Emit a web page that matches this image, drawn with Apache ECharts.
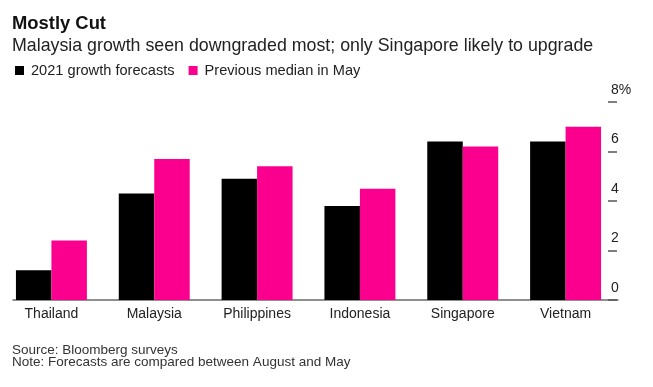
<!DOCTYPE html>
<html>
<head>
<meta charset="utf-8">
<script src="https://cdn.jsdelivr.net/npm/echarts@6/dist/echarts.min.js"></script>
<style>
html,body{margin:0;padding:0;background:#fff;}
#c{width:653px;height:387px;}
</style>
</head>
<body>
<div id="c"></div>
<script>
var categories = ['Thailand', 'Malaysia', 'Philippines', 'Indonesia', 'Singapore', 'Vietnam'];
var forecasts2021 = [1.2, 4.3, 4.9, 3.8, 6.4, 6.4];
var previousMay = [2.4, 5.7, 5.4, 4.5, 6.2, 7.0];
var yTicks = [0, 2, 4, 6, 8];
var seriesNames = ['2021 growth forecasts', 'Previous median in May'];

var FONT = '"Liberation Sans", Arial, sans-serif';
var chart = echarts.init(document.getElementById('c'), null, {renderer: 'canvas'});
chart.setOption({
  animation: false,
  backgroundColor: '#fff',
  textStyle: {fontFamily: FONT},
  title: [
    {text: 'Mostly Cut', left: 12, top: 15, padding: 0,
     textStyle: {fontFamily: FONT, fontSize: 18.4, fontWeight: 'bold', color: '#111'}},
    {text: 'Malaysia growth seen downgraded most; only Singapore likely to upgrade', left: 12, top: 37, padding: 0,
     textStyle: {fontFamily: FONT, fontSize: 17.8, fontWeight: 'normal', color: '#222'}},
    {text: 'Source: Bloomberg surveys', left: 12, top: 343, padding: 0,
     textStyle: {fontFamily: FONT, fontSize: 13.5, fontWeight: 'normal', color: '#333'}},
    {text: 'Note: Forecasts are compared between August and May', left: 12, top: 355, padding: 0,
     textStyle: {fontFamily: FONT, fontSize: 13.5, fontWeight: 'normal', color: '#333'}}
  ],
  legend: {
    left: 15, top: 63, padding: 0,
    icon: 'rect', itemWidth: 9, itemHeight: 9, itemGap: 14,
    data: seriesNames,
    textStyle: {fontFamily: FONT, fontSize: 14.6, color: '#222', padding: [0, 0, 0, 2]}
  },
  grid: [
    {left: -3, right: 36, top: 102, bottom: 87, containLabel: false},
    {left: 13, right: 35, top: 102, bottom: 87, containLabel: false}
  ],
  xAxis: [
    {type: 'category', gridIndex: 0, data: categories,
     axisLine: {show: false}, axisTick: {show: false},
     axisLabel: {fontFamily: FONT, fontSize: 14, color: '#222', margin: 7}},
    {type: 'value', gridIndex: 1, min: 0, max: 1, show: true,
     axisLine: {show: true, lineStyle: {color: '#6b6b6b', width: 1.5}},
     axisTick: {show: false}, axisLabel: {show: false}, splitLine: {show: false}}
  ],
  yAxis: [
    {type: 'value', gridIndex: 0, position: 'right', min: 0, max: 8, interval: 2,
     axisLine: {show: false},
     axisTick: {show: true, inside: true, length: 9, lineStyle: {color: '#555', width: 1.5}},
     splitLine: {show: false},
     axisLabel: {fontFamily: FONT, fontSize: 14, color: '#222', margin: -6, align: 'left',
                 verticalAlign: 'bottom', padding: [0, 0, 5, 0],
                 formatter: function (v) { return v === 8 ? v + '%' : String(v); }}},
    {type: 'value', gridIndex: 1, min: 0, max: 1, show: false}
  ],
  series: [
    {name: seriesNames[0], type: 'bar', xAxisIndex: 0, yAxisIndex: 0, data: forecasts2021,
     itemStyle: {color: '#000000'}, barGap: '0%', barCategoryGap: '31%'},
    {name: seriesNames[1], type: 'bar', xAxisIndex: 0, yAxisIndex: 0, data: previousMay,
     itemStyle: {color: '#fb008f'}, barGap: '0%', barCategoryGap: '31%'}
  ]
});
</script>
</body>
</html>
